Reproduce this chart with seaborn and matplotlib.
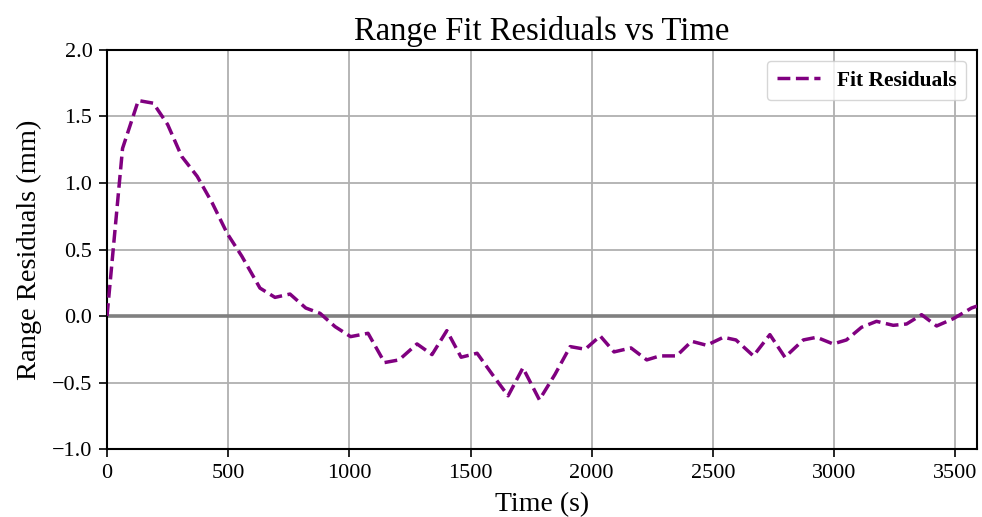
import numpy as np
import pandas as pd
import matplotlib
matplotlib.use("Agg")
import matplotlib.pyplot as plt
import seaborn as sns

time_s = [0, 64, 129, 191, 250, 308, 372, 434, 496, 556, 631, 693, 755, 820, 879,
          941, 1005, 1077, 1145, 1205, 1279, 1341, 1402, 1461, 1527, 1590, 1655,
          1716, 1784, 1848, 1911, 1973, 2035, 2092, 2162, 2227, 2281, 2350, 2412,
          2474, 2543, 2595, 2667, 2735, 2797, 2873, 2928, 2996, 3051, 3113, 3175,
          3244, 3299, 3361, 3423, 3492, 3567, 3590]
residuals_mm = [0.00, 1.26, 1.62, 1.60, 1.44, 1.20, 1.05, 0.85, 0.62, 0.45, 0.21,
                0.14, 0.165, 0.06, 0.02, -0.08, -0.155, -0.13, -0.35, -0.33, -0.21,
                -0.29, -0.11, -0.31, -0.28, -0.44, -0.60, -0.39, -0.63, -0.44, -0.23,
                -0.25, -0.15, -0.27, -0.24, -0.33, -0.30, -0.30, -0.19, -0.22, -0.16,
                -0.18, -0.30, -0.14, -0.31, -0.18, -0.16, -0.21, -0.18, -0.085, -0.04,
                -0.07, -0.06, 0.01, -0.075, -0.02, 0.06, 0.075]

x_ticks = [0, 500, 1000, 1500, 2000, 2500, 3000, 3500]
y_ticks = [-1.0, -0.5, 0.0, 0.5, 1.0, 1.5, 2.0]

sns.set_style("whitegrid")
plt.rcParams['font.family'] = ['Liberation Serif', 'DejaVu Serif']
plt.rcParams['text.color'] = 'black'
plt.rcParams['axes.labelcolor'] = 'black'

df = pd.DataFrame({"Time (s)": time_s, "Residual": residuals_mm})

fig = plt.figure(figsize=(9.82, 5.17), dpi=100)
ax = fig.add_axes([0.109, 0.1315, 0.886, 0.7718])

ax.axhline(0, color="#808080", lw=2.6, zorder=2)
sns.lineplot(data=df, x="Time (s)", y="Residual", ax=ax, color="#800080",
             linestyle="--", lw=2.5, label="Fit Residuals", zorder=3)

ax.set_xlim(0, time_s[-1])
ax.set_ylim(-1.0, 2.0)
ax.set_xticks(x_ticks)
ax.set_yticks(y_ticks)
ax.set_xticklabels([str(v) for v in x_ticks])
ax.set_yticklabels([f"{v:.1f}".replace("-", "\u2212") for v in y_ticks])

ax.grid(True, color="#b0b0b0", lw=1.3)
for s in ax.spines.values():
    s.set_color("black")
    s.set_linewidth(1.5)
ax.tick_params(axis="both", which="major", labelsize=16, length=5.5, width=1.2,
               color="black", direction="out", left=True, bottom=True,
               labelcolor="black", pad=5)

ax.set_title("Range Fit Residuals vs Time", fontsize=23.5, pad=7, color="black")
ax.set_xlabel("Time (s)", fontsize=20, labelpad=7)
ax.set_ylabel("Range Residuals (mm)", fontsize=20.5, labelpad=7)

leg = ax.legend(loc="upper right", prop={"weight": "bold", "size": 15.5},
                frameon=True, fancybox=True, framealpha=0.8,
                edgecolor="#cccccc", borderpad=0.45, handlelength=2.0)

fig.savefig("out.png", dpi=100)
